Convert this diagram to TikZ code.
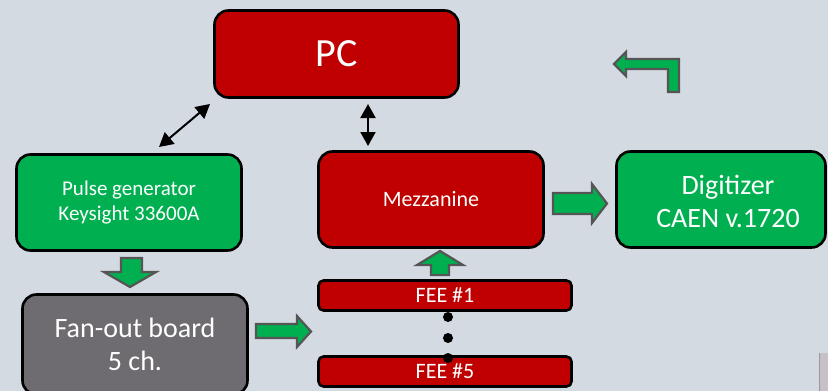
\documentclass[tikz,border=0pt]{standalone}
\usepackage{fontspec}
\setmainfont{Carlito}
\usetikzlibrary{arrows.meta}
\definecolor{bg}{RGB}{211,218,225}
\definecolor{boxred}{RGB}{192,0,0}
\definecolor{boxgreen}{RGB}{0,176,80}
\definecolor{boxgray}{RGB}{110,108,113}
\definecolor{arrgray}{RGB}{85,85,85}
\definecolor{edgegray}{RGB}{199,193,199}
\tikzset{
  blk/.style={draw=black, line width=2.6pt, rounded corners=14pt, text=white, align=center, inner sep=0pt},
  feebar/.style={draw=black, line width=2.6pt, rounded corners=5pt, fill=boxred, text=white, inner sep=0pt,
    minimum width=253pt, minimum height=30pt, font=\fontsize{22}{26}\selectfont},
  blockarrow/.style={draw=arrgray, line width=2.2pt, fill=boxgreen, line join=miter},
  dblarrow/.style={line width=2pt, {Triangle[length=14pt,width=15pt]}-{Triangle[length=14pt,width=15pt]}},
  dotmark/.style={circle, fill=black, inner sep=0pt, minimum size=10pt}
}
\begin{document}
\begin{tikzpicture}[x=1pt,y=-1pt]
\fill[bg] (0,0) rectangle (828,391);
\useasboundingbox (0,0) rectangle (828,391);
\clip (0,0) rectangle (828,391);

% boxes
\node[blk, fill=boxred, minimum width=244pt, minimum height=87pt, font=\fontsize{40}{44}\selectfont] (pc) at (336.5,54) {PC};
\node[blk, fill=boxgreen, minimum width=225pt, minimum height=96pt, font=\fontsize{21}{25}\selectfont] (pulse) at (129,202.5) {Pulse generator\\Keysight 33600A};
\node[blk, fill=boxred, minimum width=225pt, minimum height=96pt, font=\fontsize{22}{26}\selectfont] (mezz) at (431,199.5) {Mezzanine};
\node[blk, fill=boxgreen, minimum width=209pt, minimum height=96pt] (dig) at (721,199.5) {};
\node[text=white, align=center, font=\fontsize{28}{33}\selectfont, inner sep=0pt] (digtext) at (728,201.5) {Digitizer\\CAEN v.1720};
\node[blk, fill=boxgray, minimum width=225pt, minimum height=100pt, font=\fontsize{28}{33}\selectfont] (fanout) at (135,344.5) {Fan-out board\\5 ch.};
\node[feebar] (fee1) at (445,295.5) {FEE \#1};
\node[feebar] (fee5) at (445,371.5) {FEE \#5};

% dots
\node[dotmark] (dot1) at (448,317) {};
\node[dotmark] (dot2) at (448,338) {};
\node[dotmark] (dot3) at (448,358) {};

% double arrows
\coordinate (pcA) at (210,104);
\coordinate (pgA) at (159,147);
\coordinate (pcB) at (368,104);
\coordinate (mzB) at (368,146);
\draw[dblarrow] (pgA) -- (pcA);
\draw[dblarrow] (pcB) -- (mzB);

% block arrows
\draw[blockarrow] (121,258) -- (142,258) -- (142,272) -- (156,272) -- (130,287) -- (104,272) -- (121,272) -- cycle;
\draw[blockarrow] (256,324) -- (297,324) -- (297,316) -- (311,331.5) -- (297,347) -- (297,338) -- (256,338) -- cycle;
\draw[blockarrow] (431,275) -- (449,275) -- (449,265) -- (463,265) -- (440,251) -- (417,265) -- (431,265) -- cycle;
\draw[blockarrow] (553,193) -- (592,193) -- (592,184) -- (607,203.5) -- (592,223) -- (592,214) -- (553,214) -- cycle;
\draw[blockarrow] (614,64) -- (626,52) -- (626,59) -- (679,59) -- (679,92) -- (668,92) -- (668,69) -- (626,69) -- (626,76) -- cycle;

% partial element at bottom right edge
\fill[edgegray] (819,353) rectangle (830,393);
\draw[gray!80, line width=0.6pt] (819.3,353) -- (819.3,393);
\end{tikzpicture}
\end{document}
